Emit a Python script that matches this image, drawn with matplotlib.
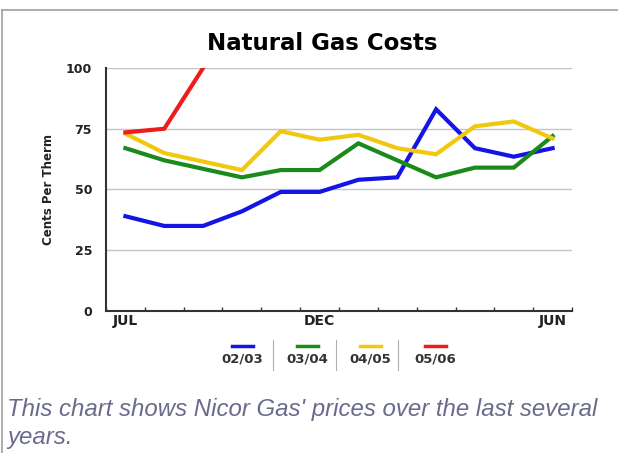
#!/usr/bin/env python3

import matplotlib.pyplot as plt
from matplotlib.lines import Line2D
import numpy as np

plt.rcParams["font.family"] = ["DejaVu Sans"]

months = ["JUL", "AUG", "SEP", "OCT", "NOV", "DEC",
          "JAN", "FEB", "MAR", "APR", "MAY", "JUN"]
shown_months = {"JUL", "DEC", "JUN"}

seasons = ["02/03", "03/04", "04/05", "05/06"]
costs_0203 = [39, 35, 35, 41, 49, 49, 54, 55, 83, 67, 63.5, 67]
costs_0304 = [67, 62, 58.5, 55, 58, 58, 69, 62, 55, 59, 59, 72]
costs_0405 = [73, 65, 61.5, 58, 74, 70.5, 72.5, 67, 64.5, 76, 78, 71]
costs_0506 = [73.5, 75, 100]
colors = ["#1414e6", "#1a8a1a", "#f2c80f", "#ee1c1c"]

series = [costs_0203, costs_0304, costs_0405, costs_0506]

fig = plt.figure(figsize=(6.18, 4.53), dpi=100)
ax = fig.add_axes([0.1715, 0.3135, 0.7541, 0.5364])

for vals, c in zip(series, colors):
    ax.plot(np.arange(len(vals)), vals, color=c, lw=3.0,
            solid_joinstyle="miter", zorder=3)

ax.set_xlim(-0.5, len(months) - 0.5)
ax.set_ylim(0, 100)
ax.set_yticks([0, 25, 50, 75, 100])
ax.set_yticklabels(["0", "25", "50", "75", "100"], fontsize=9, fontweight="bold",
                   color="#222222")
ax.yaxis.grid(True, color="#c4c4c4", lw=1.0)
ax.set_axisbelow(True)

# month boundaries as ticks, month names centred between them
ax.set_xticks(np.arange(len(months) + 1) - 0.5)
ax.set_xticklabels([])
ax.set_xticks(np.arange(len(months)), minor=True)
ax.set_xticklabels([m if m in shown_months else "" for m in months],
                   minor=True, fontsize=10, fontweight="bold", color="#222222")
ax.tick_params(axis="x", which="major", direction="in", length=3, width=1, color="#333333")
ax.tick_params(axis="x", which="minor", length=0, pad=2)
ax.tick_params(axis="y", length=0, pad=10)

for s in ["top", "right"]:
    ax.spines[s].set_visible(False)
for s in ["left", "bottom"]:
    ax.spines[s].set_color("#333333")
    ax.spines[s].set_linewidth(1.5)

ax.set_ylabel("Cents Per Therm", fontsize=8.5, fontweight="bold", labelpad=8,
              color="#222222")

fig.text(0.521, 0.905, "Natural Gas Costs", ha="center", va="center",
         fontsize=16.5, fontweight="bold")

# legend: short line above each label, thin separators between
leg_x = [0.392, 0.498, 0.599, 0.704]
for x, lab, c in zip(leg_x, seasons, colors):
    fig.add_artist(Line2D([x - 0.017, x + 0.017], [0.236, 0.236], color=c, lw=2.5))
    fig.text(x, 0.208, lab, ha="center", va="center", fontsize=9.5,
             fontweight="bold", color="#333333")
for x in [0.442, 0.544, 0.644]:
    fig.add_artist(Line2D([x, x], [0.183, 0.25], color="#b0b0b0", lw=0.8))

# frame of the surrounding box
fig.add_artist(Line2D([0.004, 1.0], [0.978, 0.978], color="#a0a0a0", lw=1.2))
fig.add_artist(Line2D([0.004, 0.004], [0.0, 0.978], color="#a0a0a0", lw=1.2))

fig.text(0.012, 0.095, "This chart shows Nicor Gas' prices over the last several",
         ha="left", va="center", fontsize=17.3, style="italic", color="#6a6a8c",
         family="Liberation Sans")
fig.text(0.012, 0.035, "years.", ha="left", va="center", fontsize=17.3,
         style="italic", color="#6a6a8c", family="Liberation Sans")

plt.savefig("out.png", dpi=100)
plt.close()
